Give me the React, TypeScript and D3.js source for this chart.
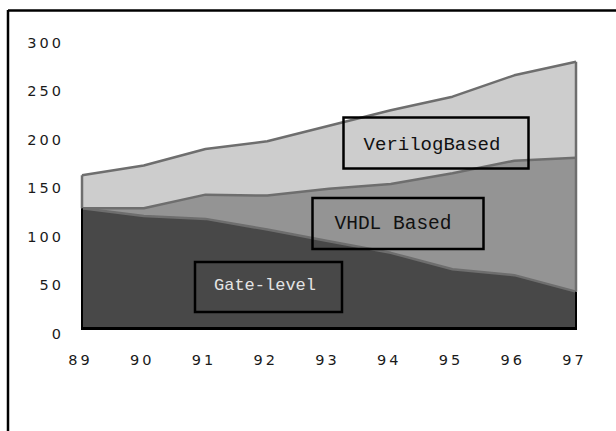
import React from "react";
import * as d3 from "d3";

const years = ["89", "90", "91", "92", "93", "94", "95", "96", "97"];
const gateLevel = [124, 116, 113, 102, 90, 78, 61, 55, 38];
const vhdlBased = [0, 8, 25, 35, 54, 71, 99, 118, 138];
const verilogBased = [34, 44, 47, 56, 65, 76, 79, 88, 99];
const yTicks = [0, 50, 100, 150, 200, 250, 300];

const seriesKeys = ["gate", "vhdl", "verilog"];
const fills: Record<string, string> = { gate: "#484848", vhdl: "#949494", verilog: "#cdcdcd" };

export default function App() {
  const rows = years.map((y, i) => ({
    year: y,
    gate: gateLevel[i],
    vhdl: vhdlBased[i],
    verilog: verilogBased[i],
  }));
  const x = d3.scalePoint<string>().domain(years).range([82, 576]);
  const y = d3.scaleLinear().domain([0, 300]).range([328.5, 37.5]);
  const stack = d3.stack<any>().keys(seriesKeys);
  const layers = stack(rows);
  const area = d3
    .area<any>()
    .x((d) => x(d.data.year)!)
    .y0((d) => y(d[0]))
    .y1((d) => y(d[1]));
  const line = d3
    .line<any>()
    .x((d) => x(d.data.year)!)
    .y((d) => y(d[1]));

  const x0 = x(years[0])!;
  const x1 = x(years[years.length - 1])!;
  const gateLayer = layers[0];
  const topLayer = layers[2];

  const fontSans = "'DejaVu Sans', Verdana, sans-serif";
  const fontMono = "'Liberation Mono', 'Courier New', monospace";

  return (
    <svg
      width={616}
      height={431}
      style={{ position: "absolute", left: 0, top: 0, background: "#fff" }}
    >
      <line x1={8} y1={10.5} x2={616} y2={10.5} stroke="#000" strokeWidth={2.5} />
      <line x1={8} y1={10} x2={8} y2={431} stroke="#000" strokeWidth={2.5} />

      {layers.map((l) => (
        <path key={l.key} d={area(l) || ""} fill={fills[l.key]} stroke="none" />
      ))}
      <line x1={x0} x2={x0} y1={y(gateLayer[0][1])} y2={y(topLayer[0][1])} stroke="#6e6e6e" strokeWidth={2.5} />
      <line x1={x1} x2={x1} y1={y(gateLayer[8][1])} y2={y(topLayer[8][1])} stroke="#6e6e6e" strokeWidth={2.5} />
      {layers.map((l) => (
        <path key={"l" + l.key} d={line(l) || ""} fill="none" stroke="#6e6e6e" strokeWidth={2.5} strokeLinejoin="round" />
      ))}
      <line x1={x0} x2={x0} y1={y(gateLayer[0][1])} y2={y(0)} stroke="#000" strokeWidth={2} />
      <line x1={x1} x2={x1} y1={y(gateLayer[8][1])} y2={y(0)} stroke="#000" strokeWidth={2} />
      <line x1={x0 - 1} x2={x1 + 1} y1={y(0)} y2={y(0)} stroke="#000" strokeWidth={3} />

      {yTicks.map((t) => (
        <text
          key={t}
          x={64}
          y={y(t) + 10}
          textAnchor="end"
          fontFamily={fontSans}
          fontSize={14.5}
          letterSpacing={3}
          fill="#1a1a1a"
        >
          {t}
        </text>
      ))}
      {years.map((yr) => (
        <text
          key={yr}
          x={x(yr)! - 1.5}
          y={365}
          textAnchor="middle"
          fontFamily={fontSans}
          fontSize={14.5}
          letterSpacing={3}
          fill="#1a1a1a"
        >
          {yr}
        </text>
      ))}

      <rect x={343.5} y={117.5} width={185} height={51} fill="none" stroke="#000" strokeWidth={2.5} />
      <text x={432} y={150} textAnchor="middle" fontFamily={fontMono} fontSize={19} fill="#111">
        VerilogBased
      </text>
      <rect x={312.5} y={198} width={171} height={51} fill="none" stroke="#000" strokeWidth={2.5} />
      <text x={393} y={229} textAnchor="middle" fontFamily={fontMono} fontSize={19.5} fill="#111">
        VHDL Based
      </text>
      <rect x={195} y={262} width={147} height={50} fill="none" stroke="#000" strokeWidth={2.5} />
      <text x={265} y={290} textAnchor="middle" fontFamily={fontMono} fontSize={17} fill="#e4e4e4">
        Gate-level
      </text>
    </svg>
  );
}
